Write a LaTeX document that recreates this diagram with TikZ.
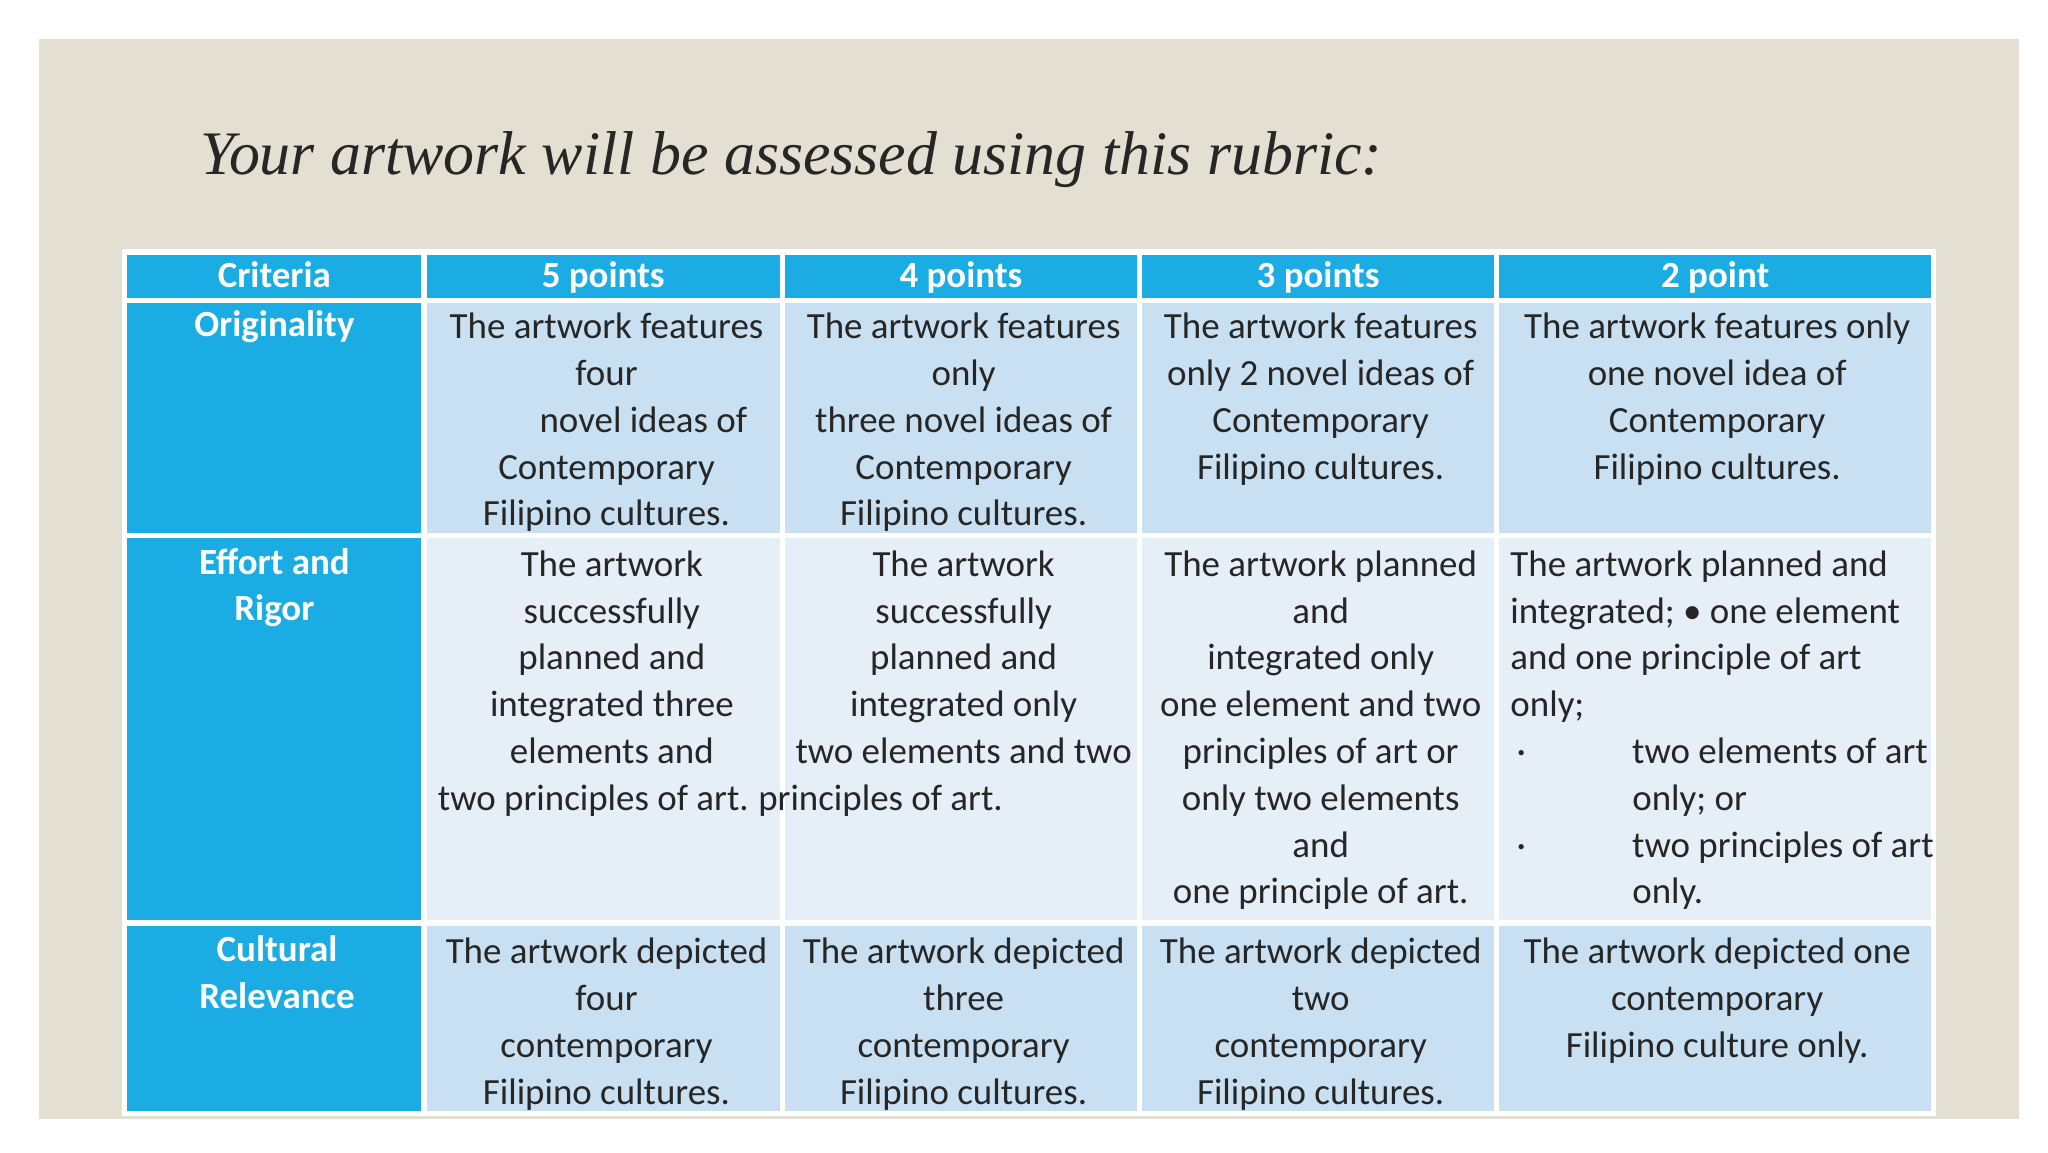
\documentclass[tikz,border=0pt]{standalone}
\usepackage{fontspec}
\setmainfont{Carlito}
\newfontfamily\titlefont{Liberation Serif}
\definecolor{beige}{HTML}{E3E0D3}
\definecolor{hblue}{HTML}{1AACE3}
\definecolor{cellA}{HTML}{C9E0F2}
\definecolor{cellB}{HTML}{E6EEF8}
\tikzset{
 cellbox/.style={draw=white,line width=1.5pt},
 txt/.style={anchor=north,inner sep=0pt,align=center,font=\fontsize{10.5}{13.3}\selectfont,text=black!85},
 hdrtxt/.style={anchor=north,inner sep=0pt,align=center,font=\fontsize{10.5}{13.3}\selectfont\bfseries,text=white},
}
\begin{document}
\begin{tikzpicture}[x=0.013128cm,y=-0.013128cm]
\useasboundingbox (0,0) rectangle (1560,877.5);
\fill[white] (0,0) rectangle (1560,877.5);
\fill[beige] (30,30) rectangle (1538,852);
\node[anchor=base west,inner sep=0pt,font=\titlefont\itshape\fontsize{17.6}{20}\selectfont,text=black!85] (title) at (152,133) {Your artwork will be assessed using this rubric:};
% header
\foreach \a/\b in {95/323,323/596,596/868,868/1140,1140/1473}{
 \filldraw[cellbox,fill=hblue] (\a,192) rectangle (\b,229);}
\foreach \y/\z/\c in {229/408/cellA,408/703/cellB,703/848/cellA}{
 \filldraw[cellbox,fill=hblue] (95,\y) rectangle (323,\z);
 \foreach \a/\b in {323/596,596/868,868/1140,1140/1473}{
  \filldraw[cellbox,fill=\c] (\a,\y) rectangle (\b,\z);}}
\node[hdrtxt] (h1) at (209,199) {Criteria};
\node[hdrtxt] (h2) at (459.5,199) {5 points};
\node[hdrtxt] (h3) at (732,199) {4 points};
\node[hdrtxt] (h4) at (1004,199) {3 points};
\node[hdrtxt] (h5) at (1306.5,199) {2 point};
\node[hdrtxt] (r1) at (209,236) {Originality};
\node[hdrtxt] (r2) at (209,417) {Effort and\\Rigor};
\node[hdrtxt] (r3) at (211,712) {Cultural\\Relevance};
\node[txt] (a1) at (462,238) {The artwork features\\four\\\hspace*{2em}novel ideas of\\Contemporary\hspace*{3em}\\Filipino cultures.};
\node[txt] (b1) at (734,238) {The artwork features\\only\\three novel ideas of\\Contemporary\hspace*{3em}\\Filipino cultures.};
\node[txt] (c1) at (1006,238) {The artwork features\\only 2 novel ideas of\\Contemporary\\Filipino cultures.};
\node[txt] (d1) at (1308,238) {The artwork features only\\one novel idea of\\Contemporary\\Filipino cultures.};
\node[txt] (a2) at (452,419) {\hspace*{1em}The artwork\\\hspace*{1em}successfully\\\hspace*{1em}planned and\\\hspace*{1em}integrated three\\\hspace*{1em}elements and\\two principles of art.};
\node[txt] (b2) at (734,419) {The artwork\\successfully\\planned and\\integrated only\hspace*{4em}\\two elements and two\\principles of art.\hspace*{4.5em}};
\node[txt] (c2) at (1006,419) {The artwork planned\\and\\integrated only\\one element and two\\principles of art or\\only two elements\\and\\one principle of art.};
\node[txt,anchor=north west,align=left] (d2) at (1150,419) {The artwork planned and\\integrated; • one element\\and one principle of art\\only;\\\makebox[3.3em][l]{\,·}two elements of art\\\hspace*{3.3em}only; or\\\makebox[3.3em][l]{\,·}two principles of art\\\hspace*{3.3em}only.};
\node[txt] (a3) at (462,714) {The artwork depicted\\four\\contemporary\\Filipino cultures.};
\node[txt] (b3) at (734,714) {The artwork depicted\\three\\contemporary\\Filipino cultures.};
\node[txt] (c3) at (1006,714) {The artwork depicted\\two\\contemporary\\Filipino cultures.};
\node[txt] (d3) at (1308,714) {The artwork depicted one\\contemporary\\Filipino culture only.};
\end{tikzpicture}
\end{document}
